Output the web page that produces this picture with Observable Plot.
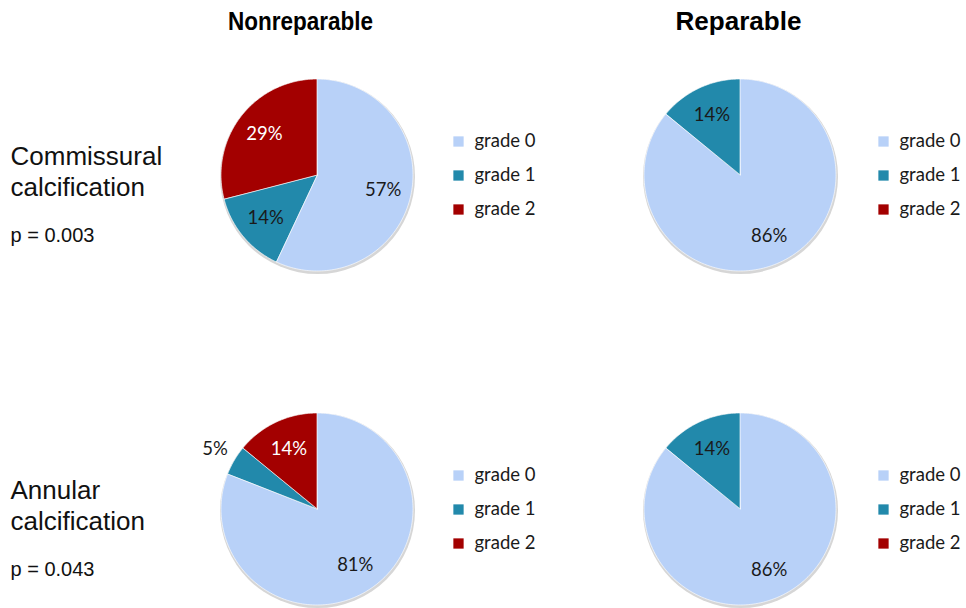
<!DOCTYPE html>
<html>
<head>
<meta charset="utf-8">
<script src="https://cdn.jsdelivr.net/npm/d3@7"></script>
<script src="https://cdn.jsdelivr.net/npm/@observablehq/plot@0.6"></script>
<style>
  html, body { margin: 0; padding: 0; background: #fff; }
  #chart { width: 966px; height: 608px; }
</style>
</head>
<body>
<div id="chart"></div>
<script>
// ---- data ----
const groups = ["Nonreparable", "Reparable"];
const rowLabels = ["Commissural\ncalcification", "Annular\ncalcification"];
const pValues = ["p = 0.003", "p = 0.043"];
const grades = ["grade 0", "grade 1", "grade 2"];
const commissuralNonreparable = [57, 14, 29];
const commissuralReparable = [86, 14, 0];
const annularNonreparable = [81, 5, 14];
const annularReparable = [86, 14, 0];
const gradeColors = ["#b8d1f8", "#2289ab", "#a30000"];

// ---- layout ----
const W = 966, H = 608;
const R = 96;
const colX = [317, 740];
const rowY = [175, 509];
const legendDX = [141, 143];
const legendDY = [-34, 0, 34];
const titleWidths = [145, 126];

const pies = [
  {values: commissuralNonreparable, col: 0, row: 0},
  {values: commissuralReparable, col: 1, row: 0},
  {values: annularNonreparable, col: 0, row: 1},
  {values: annularReparable, col: 1, row: 1}
];

const slices = [];
const labels = [];
const legend = [];
const rims = [];
pies.forEach((p, i) => {
  const cx = colX[p.col], cy = rowY[p.row];
  rims.push({x: cx, y: cy});
  const total = d3.sum(p.values);
  let start = 0;
  p.values.forEach((v, g) => {
    const end = start + v / total * 2 * Math.PI;
    if (v > 0) {
      const n = Math.max(2, Math.ceil((end - start) / (Math.PI / 180)));
      for (let k = 0; k <= n; k++) {
        const a = start + (end - start) * k / n;
        slices.push({key: i + "-" + g, grade: grades[g],
          x1: cx + R * Math.sin(a), y1: cy - R * Math.cos(a), x2: cx, y2: cy});
      }
      const mid = (start + end) / 2;
      const frac = v / total;
      const rr = frac < 0.1 ? 1.24 * R : 0.7 * R;
      labels.push({x: cx + rr * Math.sin(mid), y: cy - rr * Math.cos(mid),
        text: v + "%", white: g === 2 && frac >= 0.1});
    }
    start = end;
  });
  grades.forEach((gr, g) => {
    legend.push({x: cx + legendDX[p.col], y: cy + legendDY[g], grade: gr});
  });
});

const titles = groups.map((t, i) => ({x: colX[i] - 17 + i * 15, y: 21, text: t}));
const rowText = rowLabels.map((t, i) => ({x: 10, y: rowY[i] - 5, text: t}));
const pText = pValues.map((t, i) => ({x: 10, y: rowY[i] + 60, text: t}));

const chart = Plot.plot({
  width: W, height: H,
  margin: 0,
  x: {domain: [0, W], range: [0, W], axis: null},
  y: {domain: [0, H], range: [0, H], axis: null},
  color: {domain: grades, range: gradeColors},
  marks: [
    Plot.dot(rims, {x: "x", y: "y", r: R + 1.5, fill: "#d6d6d6", dy: 1}),
    Plot.area(slices, {x1: "x1", y1: "y1", x2: "x2", y2: "y2", z: "key",
      fill: "grade", stroke: "#ffffff", strokeWidth: 0.8, strokeOpacity: 0.8, curve: "linear"}),
    Plot.text(labels, {x: "x", y: "y", text: "text",
      fill: d => d.white ? "#ffffff" : "#1a1a1a",
      fontSize: 18.5, fontFamily: "Lato, 'Open Sans', sans-serif"}),
    Plot.dot(legend, {x: "x", y: "y", fill: "grade", symbol: "square", r: 5.8}),
    Plot.text(legend, {x: "x", y: "y", text: "grade", dx: 16, textAnchor: "start",
      fill: "#1a1a1a", fontSize: 18.5, fontFamily: "Lato, 'Open Sans', sans-serif"}),
    Plot.text(titles, {x: "x", y: "y", text: "text", fontSize: 25, fontWeight: "bold",
      className: "coltitle",
      fill: "#000", fontFamily: "'Liberation Sans Narrow', 'Arial Narrow', 'Liberation Sans', sans-serif"}),
    Plot.text(rowText, {x: "x", y: "y", text: "text", textAnchor: "start", fontSize: 26,
      lineHeight: 1.18, fill: "#111", fontFamily: "'Liberation Sans', Arial, sans-serif"}),
    Plot.text(pText, {x: "x", y: "y", text: "text", textAnchor: "start", fontSize: 20,
      fill: "#111", fontFamily: "'Liberation Sans', Arial, sans-serif"})
  ]
});
document.getElementById("chart").appendChild(chart);
// fit the bold column titles to the narrow-font widths of the original
d3.select(chart).selectAll("g.coltitle text").each(function(_, i) {
  this.setAttribute("textLength", titleWidths[i]);
  this.setAttribute("lengthAdjust", "spacingAndGlyphs");
});
</script>
</body>
</html>
